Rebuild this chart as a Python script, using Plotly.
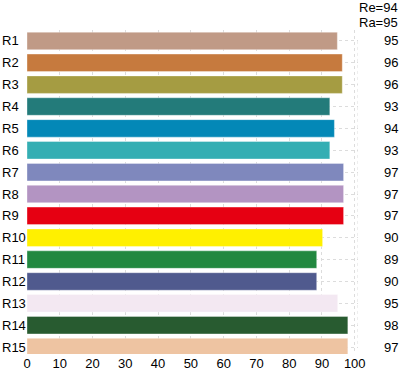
import plotly.graph_objects as go

categories = ["R1", "R2", "R3", "R4", "R5", "R6", "R7", "R8", "R9", "R10",
              "R11", "R12", "R13", "R14", "R15"]
bar_values = [94.7, 96.2, 96.2, 92.4, 93.8, 92.4, 96.6, 96.6, 96.6, 90.2,
              88.4, 88.4, 94.8, 97.9, 97.9]
value_labels = ["95", "96", "96", "93", "94", "93", "97", "97", "97", "90",
                "89", "90", "95", "98", "97"]
colors = ["#C09A86", "#C67A3E", "#A59C42", "#237B7A", "#0388B7", "#34AEB3",
          "#7F88BD", "#B394C2", "#E60012", "#FFF000", "#228840", "#505A8E",
          "#F3E8F2", "#285B30", "#EEC4A2"]
header_lines = ["Re=94", "Ra=95"]
x_ticks = [0, 10, 20, 30, 40, 50, 60, 70, 80, 90, 100]

W, H = 400, 371
ml, mr, mt, mb = 27, 42, 29.5, 17
pw = W - ml - mr
ph = H - mt - mb
n = len(categories)
pitch = 21.9
y_bottom = -0.5 + ph / pitch
font = "Liberation Sans, Arial, Helvetica, sans-serif"

idx = list(range(n))

fig = go.Figure()
fig.add_trace(go.Bar(
    x=bar_values, y=idx, orientation="h",
    marker=dict(color=colors, line=dict(color="rgba(255,255,255,0.35)", width=1)),
    width=0.8, hoverinfo="skip",
))

annotations = []
for i, c in enumerate(categories):
    annotations.append(dict(
        x=-ml / pw, xref="paper", y=i, yref="y", text=c, showarrow=False,
        xanchor="left", yanchor="middle", font=dict(size=13, color="#000", family=font)))
    annotations.append(dict(
        x=(W - ml) / pw, xref="paper", y=i, yref="y", text=value_labels[i], showarrow=False,
        xanchor="right", yanchor="middle", font=dict(size=13, color="#000", family=font)))
for j, t in enumerate(header_lines):
    annotations.append(dict(
        x=(W - ml) / pw, xref="paper", y=1 + (29.5 - 6.5 - 15 * j) / ph, yref="paper",
        text=t, showarrow=False, xanchor="right", yanchor="middle",
        font=dict(size=13, color="#000", family=font)))

fig.update_layout(
    width=W, height=H,
    margin=dict(l=ml, r=mr, t=mt, b=mb, pad=0, autoexpand=False),
    paper_bgcolor="white", plot_bgcolor="white",
    showlegend=False, bargap=0.2,
    annotations=annotations,
    font=dict(family=font, size=13, color="#000"),
    shapes=[dict(type="line", xref="x", yref="y", x0=101, x1=101, y0=0, y1=n - 1,
                 line=dict(color="#dcdcdc", width=1, dash="dot"))],
)
fig.update_xaxes(
    range=[0, 101], tickvals=x_ticks, ticktext=[str(v) for v in x_ticks],
    showgrid=True, gridcolor="#dcdcdc", griddash="dot", gridwidth=1,
    zeroline=False, showline=False, ticks="", ticklen=0, automargin=False,
    tickfont=dict(size=13, color="#000", family=font),
)
fig.update_yaxes(
    range=[y_bottom, -0.5], tickvals=idx, showticklabels=False,
    showgrid=True, gridcolor="#dcdcdc", griddash="dot", gridwidth=1,
    zeroline=False, showline=False, ticks="", automargin=False,
)

fig.write_html("out.html", config={"displayModeBar": False},
               post_script="document.body.style.margin='0';document.body.style.padding='0';")
